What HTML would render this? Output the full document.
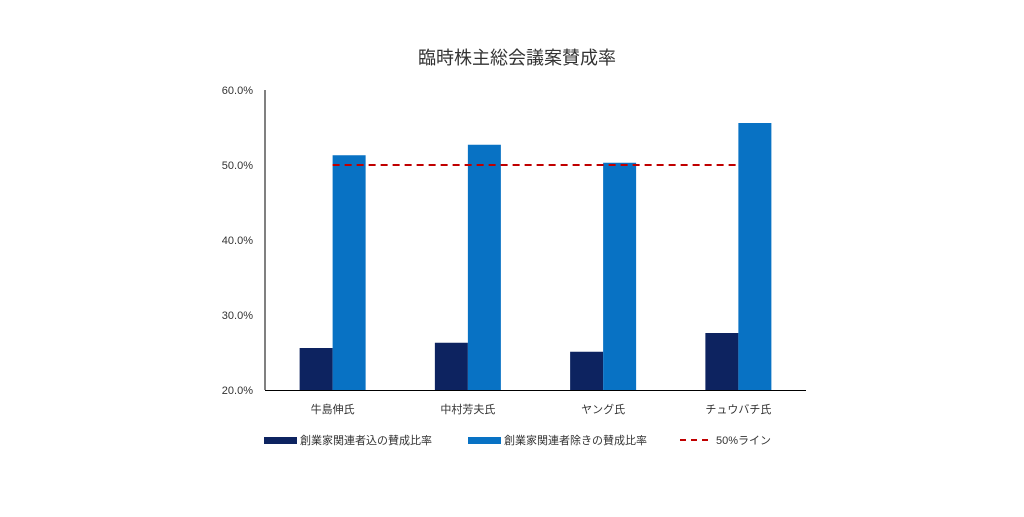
<!DOCTYPE html>
<html><head><meta charset="utf-8"><style>
body{margin:0;background:#fff;}
svg{font-family:"Liberation Sans","Noto Sans CJK JP",sans-serif;}
</style></head><body>
<svg id="c" width="1024" height="512">
<text x="517" y="64" text-anchor="middle" font-size="18" fill="#333">臨時株主総会議案賛成率</text>
<g id="g"></g>
<g>
<rect x="264" y="437" width="33" height="7" fill="#0d2360"/>
<text x="300" y="444" font-size="11" fill="#333">創業家関連者込の賛成比率</text>
<rect x="468" y="437" width="33" height="7" fill="#0872c4"/>
<text x="504" y="444" font-size="11" fill="#333">創業家関連者除きの賛成比率</text>
<line x1="680" y1="440" x2="713" y2="440" stroke="#c00000" stroke-width="2" stroke-dasharray="6,5"/>
<text x="716" y="444" font-size="11" fill="#333">50%ライン</text>
</g>
</svg>
<script>
const categories=["牛島伸氏","中村芳夫氏","ヤング氏","チュウバチ氏"];
const inclValues=[25.6,26.3,25.1,27.6];
const exclValues=[51.3,52.7,50.3,55.6];
const lineValue=50;
const yTicks=[20,30,40,50,60];
const L=265,R=806,T=90,B=390,ymin=20,ymax=60;
const y=v=>B-(v-ymin)/(ymax-ymin)*(B-T);
const bw=(R-L)/categories.length;
const xc=i=>L+bw*(i+0.5);
const g=document.getElementById('g');
const NS="http://www.w3.org/2000/svg";
function mk(t,a){const e=document.createElementNS(NS,t);for(const k in a)e.setAttribute(k,a[k]);g.appendChild(e);return e;}
yTicks.forEach(v=>{const t=mk('text',{x:253,y:y(v)+4,'text-anchor':'end','font-size':11,fill:'#333'});t.textContent=v.toFixed(1)+'%';

});
categories.forEach((c,i)=>{
const a=mk('rect',{x:xc(i)-33,y:y(inclValues[i]),width:33,height:B-y(inclValues[i]),fill:'#0d2360'});


const b=mk('rect',{x:xc(i),y:y(exclValues[i]),width:33,height:B-y(exclValues[i]),fill:'#0872c4'});


const t=mk('text',{x:xc(i),y:413,'text-anchor':'middle','font-size':11,fill:'#333'});t.textContent=c;


});
const ln=mk('line',{x1:xc(0),x2:xc(categories.length-1),y1:y(lineValue),y2:y(lineValue),stroke:'#c00000','stroke-width':2,'stroke-dasharray':'7,5'});


const ya=mk('line',{x1:L,x2:L,y1:T,y2:B,stroke:'#000','stroke-width':1});


const xa=mk('line',{x1:L,x2:R,y1:B+0.5,y2:B+0.5,stroke:'#000','stroke-width':1});


</script>
</body></html>
